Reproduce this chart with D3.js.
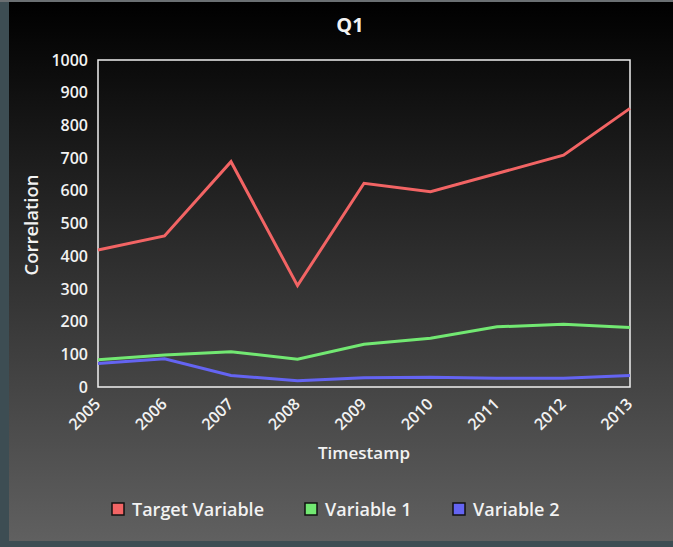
<!DOCTYPE html>
<html>
<head>
<meta charset="utf-8">
<script src="https://cdn.jsdelivr.net/npm/d3@7"></script>
<style>
  html, body { margin: 0; padding: 0; background: #3d4d53; }
  svg { display: block; }
  text { font-family: "Open Sans", sans-serif; fill: #f2f2f2; }
</style>
</head>
<body>
<svg id="chart" width="673" height="547"></svg>
<script>
const years = ["2005","2006","2007","2008","2009","2010","2011","2012","2013"]
const targetVariable = [419, 462, 689, 310, 623, 597, 653, 709, 852]
const variable1 = [83, 98, 108, 85, 131, 149, 184, 192, 182]
const variable2 = [72, 86, 35, 19, 28, 30, 27, 27, 35]
const yTicks = [0,100,200,300,400,500,600,700,800,900,1000]
const seriesNames = ["Target Variable", "Variable 1", "Variable 2"]
const seriesColors = ["#f26464", "#72e872", "#6464f2"]

const series = [targetVariable, variable1, variable2]

const svg = d3.select("#chart")

// background gradient panel
const defs = svg.append("defs")
const grad = defs.append("linearGradient")
                 .attr("id", "bg")
                 .attr("x1", 0).attr("y1", 0)
                 .attr("x2", 0).attr("y2", 1)
grad.append("stop").attr("offset", "0%").attr("stop-color", "#000000")
grad.append("stop").attr("offset", "100%").attr("stop-color", "#606060")

svg.append("rect")
   .attr("x", 0).attr("y", 0)
   .attr("width", 673).attr("height", 2)
   .attr("fill", "#6a6f72")

svg.append("rect")
   .attr("x", 9).attr("y", 2)
   .attr("width", 664).attr("height", 539)
   .attr("fill", "url(#bg)")

const margin = {top: 60, right: 43, bottom: 160, left: 98}
const width = 673 - margin.left - margin.right
const height = 547 - margin.top - margin.bottom

const graph = svg.append("g")
                 .attr("transform", `translate(${margin.left}, ${margin.top})`)

const x = d3.scalePoint()
            .domain(years)
            .range([0, width])

const y = d3.scaleLinear()
            .domain([0, 1000])
            .range([height, 0])

// plot frame
graph.append("rect")
     .attr("width", width)
     .attr("height", height)
     .attr("fill", "none")
     .attr("stroke", "#f0f0f0")
     .attr("stroke-width", 1.5)

// y axis
const axeY = d3.axisLeft(y)
               .tickValues(yTicks)
               .tickFormat(d3.format("d"))
               .tickSize(0)
               .tickPadding(10)
const gy = graph.append("g").call(axeY)
gy.select(".domain").remove()
gy.selectAll("text")
  .style("font-size", "16px")
  .style("font-weight", "600")
  .attr("fill", "#f2f2f2")

// x axis
const axeX = d3.axisBottom(x).tickSize(0).tickPadding(0)
const gx = graph.append("g")
                .attr("transform", `translate(0, ${height})`)
                .call(axeX)
gx.select(".domain").remove()
gx.selectAll("text")
  .style("font-size", "16px")
  .style("font-weight", "600")
  .attr("fill", "#f2f2f2")
  .attr("text-anchor", "end")
  .attr("y", 0)
  .attr("dy", 0)
  .attr("transform", "translate(3, 18) rotate(-45)")

// lines
const line = d3.line()
               .x((d, i) => x(years[i]))
               .y(d => y(d))

graph.selectAll(".series")
     .data(series)
     .enter()
     .append("path")
     .attr("class", "series")
     .attr("d", d => line(d))
     .attr("fill", "none")
     .attr("stroke", (d, i) => seriesColors[i])
     .attr("stroke-width", 3)
     .attr("stroke-linejoin", "miter")

// titles
svg.append("text")
   .attr("x", 350).attr("y", 32)
   .attr("text-anchor", "middle")
   .style("font-size", "20px")
   .style("font-weight", "700")
   .text("Q1")

svg.append("text")
   .attr("transform", "translate(38, 225) rotate(-90)")
   .attr("text-anchor", "middle")
   .style("font-size", "18.5px")
   .style("font-weight", "600")
   .text("Correlation")

svg.append("text")
   .attr("x", 364).attr("y", 459)
   .attr("text-anchor", "middle")
   .style("font-size", "17px")
   .style("font-weight", "600")
   .text("Timestamp")

// legend
const legendX = [112, 305, 453]
const legend = svg.selectAll(".legend")
                  .data(seriesNames)
                  .enter()
                  .append("g")
                  .attr("class", "legend")
                  .attr("transform", (d, i) => `translate(${legendX[i]}, 503)`)

legend.append("rect")
      .attr("width", 12).attr("height", 12)
      .attr("fill", (d, i) => seriesColors[i])
      .attr("stroke", "#111")
      .attr("stroke-width", 1.5)

legend.append("text")
      .attr("x", 20).attr("y", 13)
      .style("font-size", "18px")
      .style("font-weight", "600")
      .text(d => d)
</script>
</body>
</html>
